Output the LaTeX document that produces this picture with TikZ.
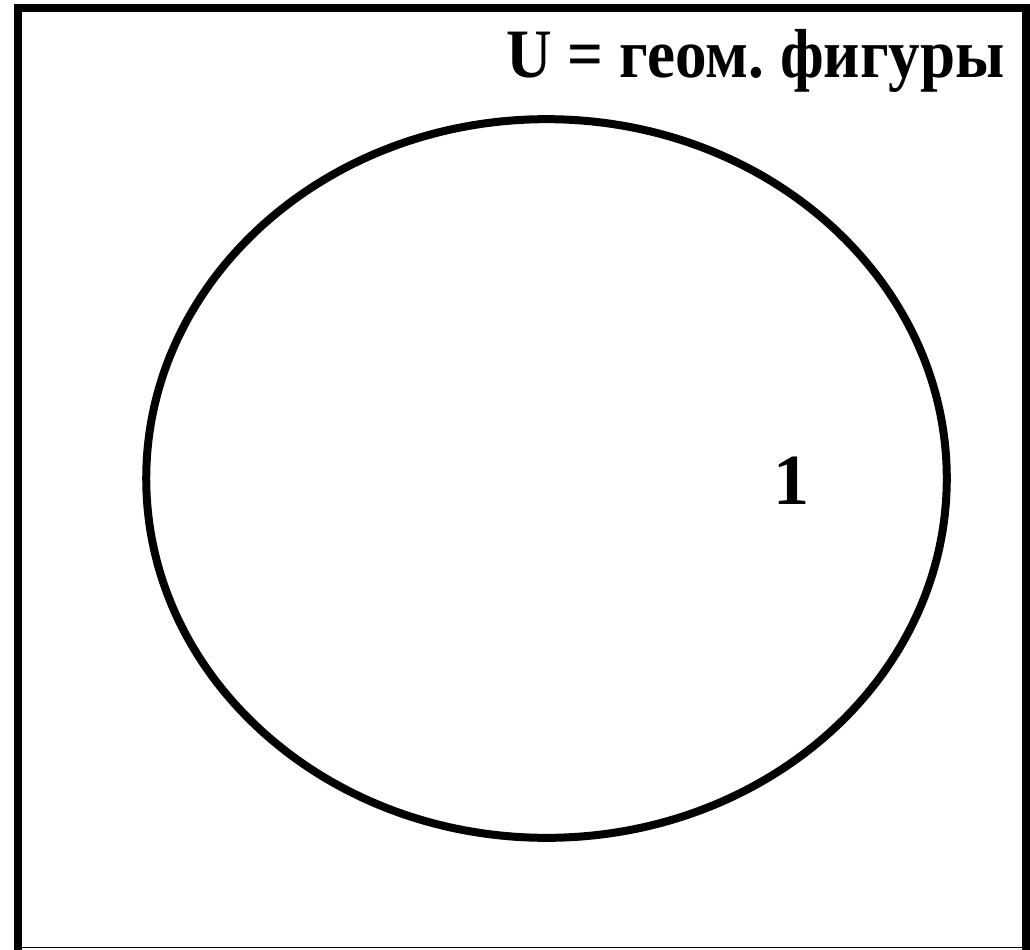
\documentclass[tikz,border=0pt]{standalone}
\usepackage{fontspec}
\setmainfont{Liberation Serif}
\newfontfamily\ulabelfont[FakeStretch=0.91]{Liberation Serif}
\usetikzlibrary{shapes.geometric, positioning}
\tikzstyle{frameline} = [line width=6pt, line cap=rect]
\tikzstyle{setshape} = [ellipse, draw=black, line width=6pt, minimum width=600.4pt, minimum height=539pt, inner sep=0pt]
\tikzstyle{bigtext} = [font=\fontsize{54}{60}\selectfont\bfseries, inner sep=0pt]

\begin{document}
\frenchspacing
\begin{tikzpicture}[x=0.75pt, y=-0.75pt]
    \useasboundingbox (0,0) rectangle (1030,949);
    % Universe frame
    \coordinate (tl) at (18,8);
    \coordinate (tr) at (1026,8);
    \coordinate (br) at (1026,952);
    \coordinate (bl) at (18,952);
    \draw [frameline] (bl) -- (tl) -- (tr) -- (br);
    \draw [line width=1.2pt] (18,947.5) -- (1026,947.5);
    
    % Universe label
    \node (ulabel) [bigtext, font=\ulabelfont\fontsize{52}{58}\selectfont\bfseries, anchor=base east] at (1005,78) {U = геом. фигуры};
    
    % Set
    \node (setA) [setshape] at (546.5,478.5) {};
    \node (one) [bigtext] at (791,481) {1};
\end{tikzpicture}
\end{document}
